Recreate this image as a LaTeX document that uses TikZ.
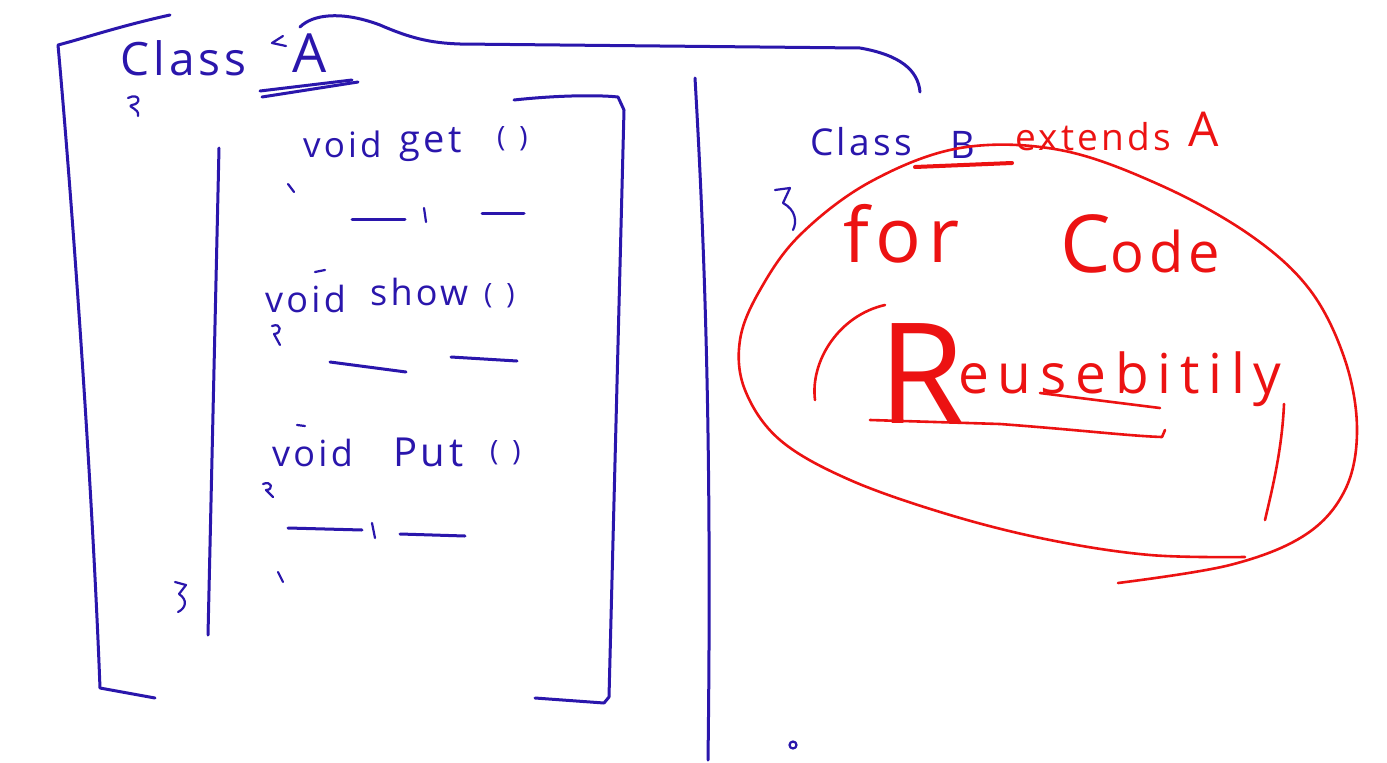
\documentclass[tikz,border=0pt]{standalone}
\usepackage{fontspec}
\setmainfont{Open Sans}
\newfontfamily\hand{Open Sans}[LetterSpace=9]
\definecolor{ink}{RGB}{42,22,172}
\definecolor{rd}{RGB}{236,18,18}
\begin{document}
\begin{tikzpicture}[x=1pt,y=-1pt,
  bl/.style={draw=ink,line width=3pt,line cap=round,line join=round},
  bls/.style={draw=ink,line width=2.2pt,line cap=round,line join=round},
  rl/.style={draw=rd,line width=2.6pt,line cap=round,line join=round},
  bt/.style={text=ink,inner sep=0pt,anchor=base west,font=\hand\fontsize{#1}{#1}\selectfont},
  rt/.style={text=rd,inner sep=0pt,anchor=base west,font=\hand\fontsize{#1}{#1}\selectfont}]
\useasboundingbox[fill=white] (0,0) rectangle (1387,763);
% ---------- class A frame ----------
\draw[bl] (170,15) .. controls (120,26) and (85,38) .. (58,45)
  .. controls (72,200) and (92,480) .. (100,688) -- (155,698);
\draw[bl] (300,27) .. controls (312,15) and (340,10) .. (380,25)
  .. controls (410,38) and (430,43) .. (460,44) -- (860,48)
  .. controls (900,55) and (918,70) .. (920,92);
\node[bt=46] (cA) at (120,75) {Class};
\node[bt=54] (cAA) at (292,72) {A};
\draw[bls] (283,36) -- (272,43) -- (286,46);
\draw[bl] (262,97) -- (358,82);
\draw[bl] (260,91) -- (352,80);
\draw[bls] (128,98) .. controls (140,92) and (142,104) .. (132,105)
  .. controls (126,107) and (140,108) .. (138,116);
% inner bracket
\draw[bl] (219,148) -- (208,635);
\draw[bls] (175,582) -- (186,585) -- (179,594) .. controls (188,600) and (186,608) .. (178,612);
\draw[bl] (514,100) .. controls (560,95) and (600,95) .. (618,97)
  -- (624,110) -- (609,697) -- (604,703) -- (535,698);
% methods
\node[bt=35] (v1) at (303,157) {void};
\node[bt=38] (g1) at (399,152) {get};
\node[bt=28] (p1) at (497,146) {(\hspace{14pt})};
\draw[bls] (288,184) -- (294,192);
\draw[bl] (352,219) -- (405,219);
\draw[bls] (424,208) -- (426,222);
\draw[bl] (482,213) -- (524,213);
\node[bt=36] (v2) at (265,312) {void};
\node[bt=36] (s2) at (370,305) {show};
\node[bt=28] (p2) at (484,303) {(\hspace{14pt})};
\draw[bls] (315,272) -- (325,270);
\draw[bls] (272,326) .. controls (282,322) and (282,334) .. (274,334) -- (280,345);
\draw[bl] (330,362) -- (406,372);
\draw[bl] (451,357) -- (517,361);
\node[bt=36] (v3) at (272,466) {void};
\node[bt=40] (P3) at (393,466) {Put};
\node[bt=28] (p3) at (490,460) {(\hspace{14pt})};
\draw[bls] (297,425) -- (305,426);
\draw[bls] (263,484) .. controls (272,480) and (274,490) .. (266,490) -- (273,497);
\draw[bl] (288,528) -- (362,530);
\draw[bls] (372,523) -- (375,538);
\draw[bl] (400,534) -- (465,536);
\draw[bls] (278,572) -- (283,582);
% divider
\draw[bl] (695,78) .. controls (705,250) and (712,450) .. (708,760);
% ---------- class B ----------
\node[bt=37] (cB) at (810,155) {Class};
\node[bt=38] (B) at (950,158) {B};
\draw[bls] (775,190) -- (790,188) -- (783,203) .. controls (796,210) and (797,222) .. (793,230);
\draw[bls] (793,745) circle (3.5);
\node[rt=37] (ext) at (1015,150) {extends};
\node[rt=48] (A2) at (1188,146) {A};
\draw[rl,line width=4pt] (915,167) -- (1012,163);
% big loop
\draw[rl] plot[smooth,tension=0.6] coordinates {(1245,557) (1150,555) (1050,540) (950,515) (850,480)
  (780,440) (745,390) (740,340) (760,290) (800,235) (870,182) (960,148) (1060,150)
  (1160,185) (1250,235) (1310,290) (1345,360) (1357,430) (1345,490) (1305,535) (1230,565) (1118,583)};
\node[rt=76] (for) at (843,262) {for};
\node[rt=56] (code) at (1060,272) {{\fontsize{80}{80}\selectfont C}ode};
\draw[rl] (815,400) .. controls (810,360) and (840,315) .. (885,305);
\node[rt=140] (R) at (878,423) {R};
\node[rt=55] (reuse) at (958,393) {\addfontfeature{LetterSpace=16}eusebitily};
\draw[rl] (1284,404) .. controls (1282,450) and (1272,490) .. (1265,520);
\draw[rl] (870,420) -- (1000,424) .. controls (1080,430) and (1130,436) .. (1162,437) -- (1165,430);
\draw[rl] (1040,393) .. controls (1080,398) and (1120,403) .. (1160,408);
\end{tikzpicture}
\end{document}
